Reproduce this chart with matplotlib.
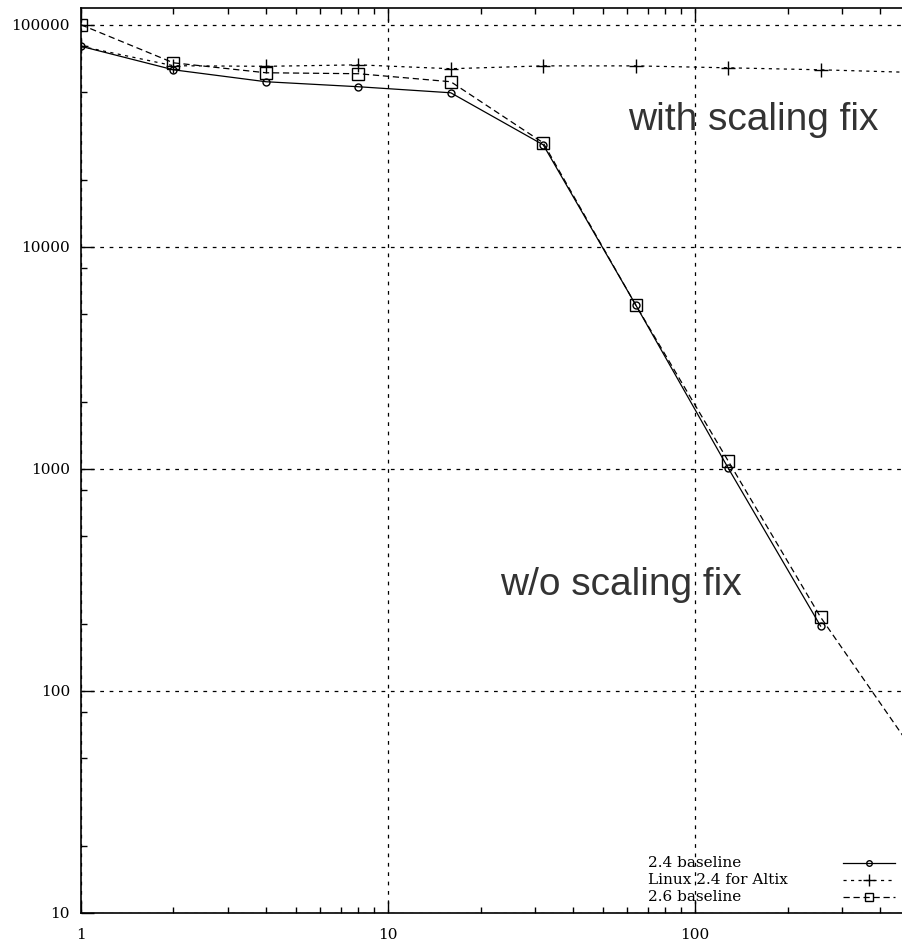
import matplotlib
matplotlib.use('Agg')
import numpy as np
import matplotlib.pyplot as plt
from matplotlib.lines import Line2D
from matplotlib import ticker

# ── Data ──────────────────────────────────────────────────────────────────────
cpus = [1, 2, 4, 8, 16, 32, 64, 128, 256, 512]

base24 = [80000, 62700, 55400, 52600, 49400, 28800, 5480, 1010, 196]
altix24 = [80000, 65400, 65000, 66000, 63400, 65300, 65300, 64000, 62700, 61000]
base26 = [100000, 67400, 60800, 60200, 55400, 29400, 5480, 1087, 215, 54]

labels = ['2.4 baseline', 'Linux 2.4 for Altix', '2.6 baseline']
ytick_vals = [10, 100, 1000, 10000, 100000]
xtick_vals = [1, 10, 100]

TICK_FONT = 'DejaVu Serif'

fig = plt.figure(figsize=(9.03, 9.43), dpi=100)
# right edge of the plot falls outside the picture (cropped)
ax = fig.add_axes([81/903, 1-913/943, 832/903, 905/943])

styles = [
    dict(ls='-', marker='o', ms=5, mfc='none', dashes=()),
    dict(ls='--', marker='+', ms=10, dashes=(2.5, 3.5)),
    dict(ls='--', marker='s', ms=8, mfc='none', dashes=(5, 3)),
]
series = [base24, altix24, base26]
for ys, st in zip(series, styles):
    kw = dict(st)
    d = kw.pop('dashes')
    line, = ax.plot(cpus[:len(ys)], ys, color='black', lw=0.9, mec='black', mew=1.0, **kw)
    if d:
        line.set_dashes(d)

ax.set_xscale('log')
ax.set_yscale('log')
ax.set_xlim(1, 512)
ax.set_ylim(10, 119000)

ax.set_xticks(xtick_vals)
ax.set_xticklabels([str(v) for v in xtick_vals], fontfamily=TICK_FONT, fontsize=11)
ax.set_yticks(ytick_vals)
ax.set_yticklabels([str(v) for v in ytick_vals], fontfamily=TICK_FONT, fontsize=11)
ax.yaxis.set_minor_locator(ticker.LogLocator(base=10, subs=(2, 5, 8)))
ax.yaxis.set_minor_formatter(ticker.NullFormatter())
ax.xaxis.set_minor_formatter(ticker.NullFormatter())
ax.tick_params(which='major', direction='in', length=9, width=1, top=True, right=False, pad=8)
ax.tick_params(which='minor', direction='in', length=4.5, width=1, top=True, right=False)
ax.tick_params(axis='x', which='major', pad=11)

ax.grid(True, which='major', color='black', lw=0.9, ls=(0, (3, 4.5)))
for sp in ax.spines.values():
    sp.set_linewidth(1.2)
ax.spines['right'].set_visible(False)

# annotations
ax.text(0.658, 0.876, 'with scaling fix', transform=ax.transAxes, fontsize=28,
        family='Liberation Sans', color='#333333', va='center', ha='left')
ax.text(0.504, 0.362, 'w/o scaling fix', transform=ax.transAxes, fontsize=28,
        family='Liberation Sans', color='#333333', va='center', ha='left')

# legend (gnuplot style: text left, sample right)
ly = [0.0552, 0.0365, 0.0177]
for lab, st, y in zip(labels, styles, ly):
    ax.text(0.6815, y, lab, transform=ax.transAxes, fontsize=11,
            family=TICK_FONT, va='center', ha='left')
    kw = dict(st)
    d = kw.pop('dashes')
    ln = Line2D([0.916, 0.978], [y, y], transform=ax.transAxes, color='black', lw=0.9,
                ls=kw['ls'])
    if d:
        ln.set_dashes(d)
    ax.add_line(ln)
    mk = Line2D([0.947], [y], transform=ax.transAxes, color='black', marker=kw['marker'],
                ms=kw['ms'] * 0.8, mfc='none', mec='black', ls='none')
    ax.add_line(mk)

fig.savefig('out.png', dpi=100)
